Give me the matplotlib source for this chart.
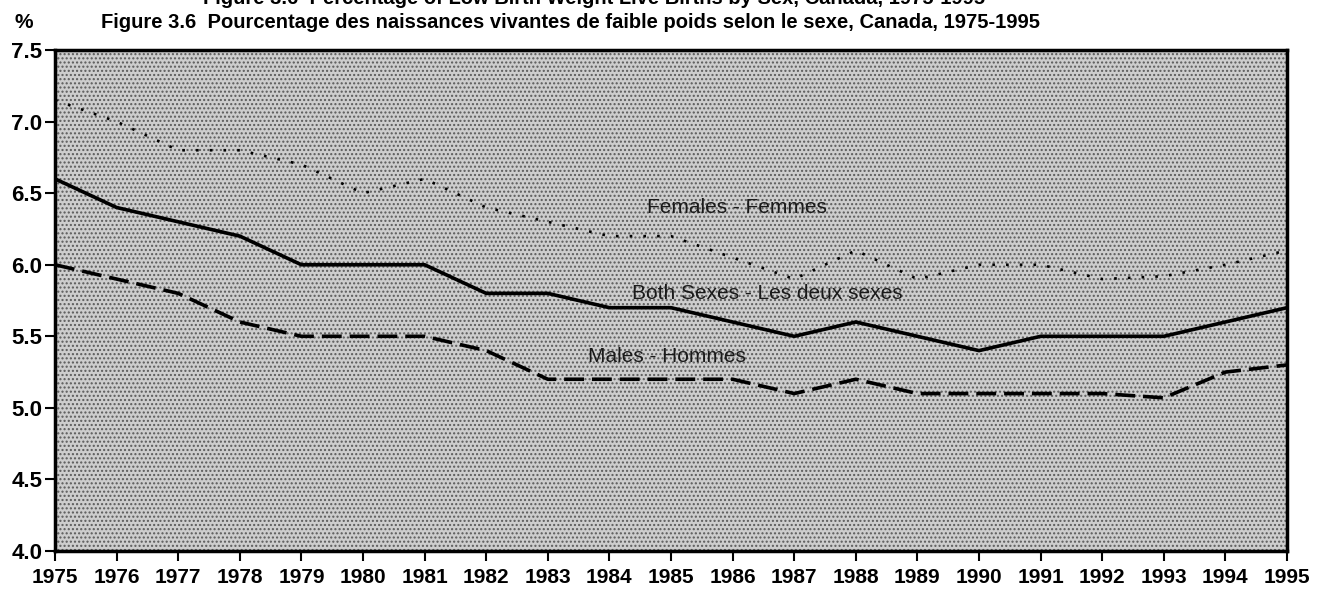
import matplotlib
matplotlib.use("Agg")
from matplotlib import pyplot as plt
from matplotlib.patches import Rectangle
import numpy as np

years = list(range(1975, 1996))
both_sexes = [6.6, 6.4, 6.3, 6.2, 6.0, 6.0, 6.0, 5.8, 5.8, 5.7, 5.7,
              5.6, 5.5, 5.6, 5.5, 5.4, 5.5, 5.5, 5.5, 5.6, 5.7]
males = [6.0, 5.9, 5.8, 5.6, 5.5, 5.5, 5.5, 5.4, 5.2, 5.2, 5.2,
         5.2, 5.1, 5.2, 5.1, 5.1, 5.1, 5.1, 5.07, 5.25, 5.3]
females = [7.15, 7.0, 6.8, 6.8, 6.7, 6.5, 6.6, 6.4, 6.3, 6.2, 6.2,
           6.05, 5.9, 6.1, 5.9, 6.0, 6.0, 5.9, 5.92, 6.0, 6.1]
y_ticks = [4.0, 4.5, 5.0, 5.5, 6.0, 6.5, 7.0, 7.5]

plt.rcParams['font.family'] = ['Liberation Sans', 'DejaVu Sans']

fig = plt.figure(figsize=(13.2, 5.96), dpi=100)
ax = fig.add_axes([0.0417, 0.0755, 0.9333, 0.8405])

# stippled grey background
ax.set_facecolor('#cdcdcd')
ax.add_patch(Rectangle((0, 0), 1, 1, transform=ax.transAxes, facecolor='none',
                       edgecolor='#5a5a5a', hatch='....', linewidth=0, zorder=0.5))

ax.plot(years, both_sexes, color='black', linewidth=2.6, solid_joinstyle='round', zorder=3)
l_m, = ax.plot(years, males, color='black', linewidth=2.6, zorder=3)
l_m.set_dashes((5.5, 2.2))
l_f, = ax.plot(years, females, color='black', linewidth=1.9, zorder=3)
l_f.set_dashes((1.0, 4.2))

ax.text(1986.07, 6.40, 'Females - Femmes', fontsize=15, ha='center', va='center', color='#1a1a1a')
ax.text(1986.56, 5.80, 'Both Sexes - Les deux sexes', fontsize=15, ha='center', va='center', color='#1a1a1a')
ax.text(1984.93, 5.36, 'Males - Hommes', fontsize=15, ha='center', va='center', color='#1a1a1a')

ax.set_xlim(1975, 1995)
ax.set_ylim(4.0, 7.5)
ax.set_xticks(years)
ax.set_xticklabels([str(y) for y in years], fontsize=15, fontweight='bold')
ax.set_yticks(y_ticks)
ax.set_yticklabels(['%.1f' % v for v in y_ticks], fontsize=16, fontweight='bold')
ax.tick_params(axis='both', direction='out', length=7, width=1.5, color='black')
ax.tick_params(axis='x', pad=5)
ax.tick_params(axis='y', pad=2)
for s in ax.spines.values():
    s.set_linewidth(2.5)
    s.set_color('black')

fig.text(0.011, 0.962, '%', fontsize=15, fontweight='bold', ha='left', va='center')
fig.text(0.432, 0.962, 'Figure 3.6  Pourcentage des naissances vivantes de faible poids selon le sexe, Canada, 1975-1995',
         fontsize=14.5, fontweight='bold', ha='center', va='center')
# English title line, cut off at the top edge of the page
fig.text(0.45, 0.993, 'Figure 3.6  Percentage of Low Birth Weight Live Births by Sex, Canada, 1975-1995',
         fontsize=14.5, fontweight='bold', ha='center', va='baseline')

fig.savefig('out.png', dpi=100)
